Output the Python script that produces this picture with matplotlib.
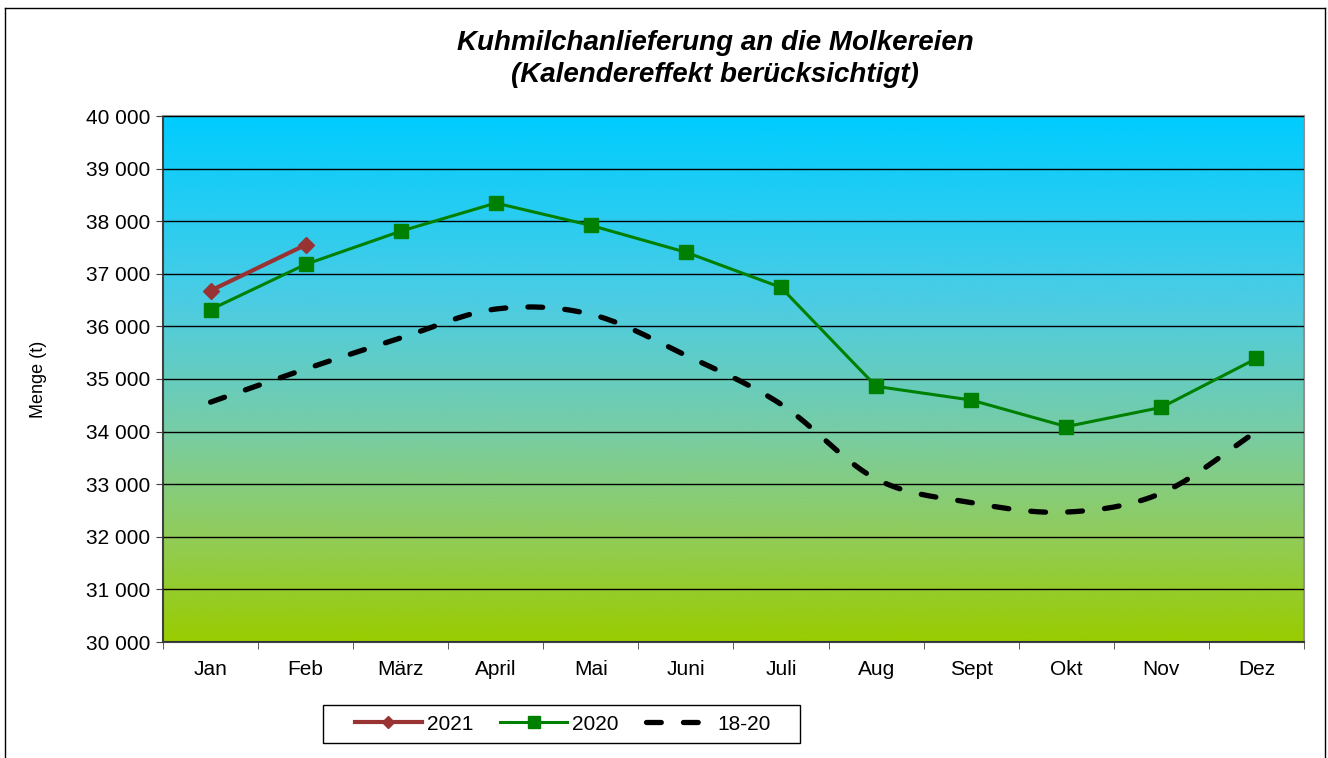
import matplotlib
matplotlib.use("Agg")
import matplotlib.pyplot as plt
import matplotlib.ticker as mticker
import numpy as np
from matplotlib.colors import LinearSegmentedColormap
from matplotlib.lines import Line2D
from matplotlib.patches import Rectangle

plt.rcParams["font.family"] = ["Liberation Sans", "DejaVu Sans"]

months = ["Jan", "Feb", "März", "April", "Mai", "Juni", "Juli", "Aug",
          "Sept", "Okt", "Nov", "Dez"]
milk_2021 = [36680, 37550]
milk_2020 = [36320, 37180, 37810, 38345, 37920, 37410, 36740, 34860,
             34600, 34095, 34460, 35390]
milk_18_20 = [34560, 35190, 35780, 36330, 36230, 35450, 34520, 33100,
              32650, 32470, 32830, 34000]

DASH = (0, (2.8, 4.2))
W, H = 1328, 758


def smooth(y, n=20):
    # Catmull-Rom curve like the spreadsheet's smoothed line
    y = np.asarray(y, dtype=float)
    x = np.arange(len(y), dtype=float)
    px = np.concatenate([[2 * x[0] - x[1]], x, [2 * x[-1] - x[-2]]])
    py = np.concatenate([[2 * y[0] - y[1]], y, [2 * y[-1] - y[-2]]])
    xs, ys = [], []
    for i in range(1, len(px) - 2):
        t = np.linspace(0, 1, n, endpoint=False)
        for p, out in ((px, xs), (py, ys)):
            p0, p1, p2, p3 = p[i - 1], p[i], p[i + 1], p[i + 2]
            out.extend(0.5 * ((2 * p1) + (-p0 + p2) * t
                              + (2 * p0 - 5 * p1 + 4 * p2 - p3) * t ** 2
                              + (-p0 + 3 * p1 - 3 * p2 + p3) * t ** 3))
    xs.append(x[-1])
    ys.append(y[-1])
    return np.array(xs), np.array(ys)


fig = plt.figure(figsize=(W / 100, H / 100), dpi=100)
ax = fig.add_axes([163 / W, 1 - 642 / H, (1304 - 163) / W, (642 - 116) / H])

# outer chart frame (bottom edge is cut off in the original)
frame_kw = dict(color="black", lw=1.0, transform=fig.transFigure, clip_on=False)
fig.add_artist(Line2D([5 / W, 5 / W], [0, 1 - 8 / H], **frame_kw))
fig.add_artist(Line2D([5 / W, 1325 / W], [1 - 8 / H, 1 - 8 / H], **frame_kw))
fig.add_artist(Line2D([1325 / W, 1325 / W], [0, 1 - 8 / H], **frame_kw))

# gradient background
grad = LinearSegmentedColormap.from_list(
    "bg",
    [(0.0, (153 / 255, 204 / 255, 0 / 255)),
     (0.2, (145 / 255, 204 / 255, 90 / 255)),
     (0.4, (120 / 255, 204 / 255, 165 / 255)),
     (0.65, (75 / 255, 204 / 255, 228 / 255)),
     (1.0, (0 / 255, 204 / 255, 255 / 255))],
)
ax.imshow(np.linspace(0, 1, 256).reshape(-1, 1), cmap=grad, origin="lower",
          aspect="auto", extent=[0, 1, 0, 1], transform=ax.transAxes, zorder=0)

ax.set_xlim(-0.5, 11.5)
ax.set_ylim(30000, 40000)
ax.yaxis.set_major_locator(mticker.MultipleLocator(1000))
ax.yaxis.set_major_formatter(
    mticker.FuncFormatter(lambda v, p: f"{int(v):,}".replace(",", " ")))
ax.grid(axis="y", color="black", lw=1.0, zorder=1)
ax.set_axisbelow(False)

x = np.arange(len(months))
ax.set_xticks(x)
ax.set_xticklabels(months)
ax.set_xticks(np.arange(-0.5, 12, 1), minor=True)
ax.tick_params(axis="x", which="major", length=0, pad=13, labelsize=15)
ax.tick_params(axis="x", which="minor", length=5, direction="out", color="#404040")
ax.tick_params(axis="y", length=5, direction="out", labelsize=15, pad=4, color="#404040")

for side in ("top", "right"):
    ax.spines[side].set_color("#909090")
    ax.spines[side].set_linewidth(1.5)
for side in ("left", "bottom"):
    ax.spines[side].set_color("#404040")
    ax.spines[side].set_linewidth(1.5)

sx, sy = smooth(milk_18_20)
ax.plot(sx, sy, color="black", lw=3.8, linestyle=DASH,
        dash_capstyle="round", zorder=3)
ax.plot(x, milk_2020, color="#008000", lw=2.2, marker="s", markersize=10, zorder=4)
ax.plot(x[:len(milk_2021)], milk_2021, color="#993333", lw=3, marker="D",
        markersize=8.5, zorder=5)

ax.set_ylabel("Menge (t)", fontsize=13)
ax.yaxis.set_label_coords(-0.102, 0.5)

fig.text(715 / W, 1 - 43 / H, "Kuhmilchanlieferung an die Molkereien",
         ha="center", va="center", fontsize=20, fontweight="bold", style="italic")
fig.text(715 / W, 1 - 75 / H, "(Kalendereffekt berücksichtigt)",
         ha="center", va="center", fontsize=20, fontweight="bold", style="italic")

# legend frame drawn separately (wider padding on the left, as in the original)
fig.add_artist(Rectangle((323 / W, 1 - 743 / H), (800 - 323) / W, 38 / H,
                         transform=fig.transFigure, facecolor="white",
                         edgecolor="black", lw=1.0))
handles = [
    Line2D([], [], color="#993333", lw=3, marker="D", markersize=6),
    Line2D([], [], color="#008000", lw=2.2, marker="s", markersize=8),
    Line2D([], [], color="black", lw=3.8, linestyle=DASH,
           dash_capstyle="round"),
]
leg = fig.legend(handles, ["2021", "2020", "18-20"], ncol=3,
                 loc="center left", bbox_to_anchor=(355 / W, 1 - 724 / H),
                 fontsize=15, frameon=False,
                 handlelength=3.2, handletextpad=0.25, columnspacing=1.3,
                 borderpad=0, borderaxespad=0)

fig.savefig("out.png", dpi=100)
